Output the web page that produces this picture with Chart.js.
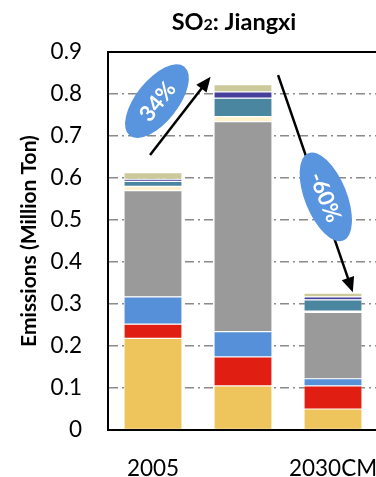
<!DOCTYPE html>
<html>
<head>
<meta charset="utf-8">
<script src="https://cdn.jsdelivr.net/npm/chart.js@4"></script>
<style>
  html, body { margin: 0; padding: 0; background: #fff; overflow: hidden; }
  #wrap { width: 376px; height: 477px; overflow: hidden; }
</style>
</head>
<body>
<div id="wrap"><canvas id="so2Chart" width="420" height="477"></canvas></div>
<script>
const years = ["2005", "2030BAU", "2030CM"];
const shownLabels = ["2005", "", "2030CM"];
const yTicks = [0, 0.1, 0.2, 0.3, 0.4, 0.5, 0.6, 0.7, 0.8, 0.9];

// stacked sources, bottom to top (Million Ton)
const seg1 = [0.218, 0.105, 0.050];
const seg2 = [0.034, 0.069, 0.055];
const seg3 = [0.065, 0.060, 0.017];
const seg4 = [0.253, 0.500, 0.158];
const seg5 = [0.010, 0.012, 0.003];
const seg6 = [0.012, 0.044, 0.027];
const seg7 = [0.005, 0.015, 0.007];
const seg8 = [0.016, 0.017, 0.009];

const changeLabels = ["34%", "-60%"];

const FONT = "Lato, 'Liberation Sans', sans-serif";

function stack(data, color) {
  return {
    data: data,
    backgroundColor: color,
    borderColor: "rgba(255,255,255,0.3)",
    borderWidth: 0.6,
    borderSkipped: false,
    categoryPercentage: 1,
    barPercentage: 0.645,
  };
}

const ctx = document.getElementById("so2Chart").getContext("2d");

const chart = new Chart(ctx, {
  type: "bar",
  data: {
    labels: years,
    datasets: [
      stack(seg1, "#EEC45C"),
      stack(seg2, "#E01F12"),
      stack(seg3, "#5690D8"),
      stack(seg4, "#9A9A9A"),
      stack(seg5, "#FFF2CC"),
      stack(seg6, "#4A86A0"),
      stack(seg7, "#463F9C"),
      stack(seg8, "#CCCA9A"),
    ],
  },
  options: {
    responsive: false,
    animation: false,
    layout: { padding: { top: 52, right: 42, left: 0, bottom: 0 } },
    plugins: {
      legend: { display: false },
      tooltip: { enabled: false },
    },
    scales: {
      x: {
        stacked: true,
        grid: { display: false },
        border: { color: "#000", width: 2 },
        ticks: {
          color: "#000",
          font: { family: FONT, size: 22.5 },
          padding: 17,
          maxRotation: 0,
          autoSkip: false,
          callback: (v, i) => shownLabels[i],
        },
        afterFit: (s) => { s.height = 47; },
      },
      y: {
        stacked: true,
        min: 0,
        max: 0.9,
        afterBuildTicks: (s) => { s.ticks = yTicks.map((v) => ({ value: v })); },
        grid: {
          drawTicks: false,
          lineWidth: 1.5,
          color: (c) => (c.tick && c.tick.value > 0 && c.tick.value < 0.9 ? "#8A8A8A" : "rgba(0,0,0,0)"),
        },
        border: { color: "#000", width: 2, dash: [9, 4, 2, 4] },
        ticks: {
          color: "#000",
          font: { family: FONT, size: 22.5 },
          padding: 26,
          callback: (v) => String(Math.round(v * 10) / 10),
        },
        title: {
          display: true,
          text: "Emissions (Million Ton)",
          color: "#000",
          font: { family: FONT, size: 21, weight: "bold" },
          padding: { top: 17, bottom: 0 },
        },
        afterFit: (s) => { s.width = 108; },
      },
    },
  },
  plugins: [
    {
      id: "frameAndNotes",
      afterDatasetsDraw(chart) {
        const { ctx, chartArea, scales: { x, y } } = chart;
        const px = (i) => x.getPixelForValue(0) + i * (x.getPixelForValue(1) - x.getPixelForValue(0));

        ctx.save();
        // top edge of the plot box
        ctx.strokeStyle = "#000";
        ctx.lineWidth = 2;
        ctx.beginPath();
        ctx.moveTo(chartArea.left - 1, chartArea.top);
        ctx.lineTo(chartArea.right, chartArea.top);
        ctx.stroke();

        function arrow(x0, y0, x1, y1) {
          const a = Math.atan2(y1 - y0, x1 - x0);
          const head = 15;
          ctx.strokeStyle = "#000";
          ctx.fillStyle = "#000";
          ctx.lineWidth = 2.5;
          ctx.beginPath();
          ctx.moveTo(x0, y0);
          ctx.lineTo(x1 - head * 0.8 * Math.cos(a), y1 - head * 0.8 * Math.sin(a));
          ctx.stroke();
          ctx.beginPath();
          ctx.moveTo(x1, y1);
          ctx.lineTo(x1 - head * Math.cos(a) + 6.5 * Math.sin(a), y1 - head * Math.sin(a) - 6.5 * Math.cos(a));
          ctx.lineTo(x1 - head * Math.cos(a) - 6.5 * Math.sin(a), y1 - head * Math.sin(a) + 6.5 * Math.cos(a));
          ctx.closePath();
          ctx.fill();
        }

        function bubble(cx, cy, rx, ry, rot, text) {
          ctx.save();
          ctx.translate(cx, cy);
          ctx.rotate(rot);
          ctx.fillStyle = "#5895DE";
          ctx.beginPath();
          ctx.ellipse(0, 0, rx, ry, 0, 0, Math.PI * 2);
          ctx.fill();
          ctx.fillStyle = "#fff";
          ctx.font = "bold 22px " + FONT;
          ctx.textAlign = "center";
          ctx.textBaseline = "middle";
          ctx.fillText(text, 0, 1);
          ctx.restore();
        }

        arrow(px(-0.033), y.getPixelForValue(0.655), px(0.64), y.getPixelForValue(0.841));
        bubble(px(0.044), y.getPixelForValue(0.783), 44, 21, -0.9, changeLabels[0]);

        arrow(px(1.39), y.getPixelForValue(0.845), px(2.22), y.getPixelForValue(0.328));
        bubble(px(1.92), y.getPixelForValue(0.555), 47, 21, 1.19, changeLabels[1]);

        // chart title with subscript
        ctx.fillStyle = "#000";
        ctx.textBaseline = "alphabetic";
        ctx.textAlign = "left";
        const big = "bold 23.5px " + FONT;
        const small = "bold 16px " + FONT;
        ctx.font = big;
        const w1 = ctx.measureText("SO").width;
        const w3 = ctx.measureText(": Jiangxi").width;
        ctx.font = small;
        const w2 = ctx.measureText("2").width;
        let tx = 234 - (w1 + w2 + w3) / 2;
        const ty = 30;
        ctx.font = big;
        ctx.fillText("SO", tx, ty);
        ctx.font = small;
        ctx.fillText("2", tx + w1, ty);
        ctx.font = big;
        ctx.fillText(": Jiangxi", tx + w1 + w2, ty);
        ctx.restore();
      },
    },
  ],
});
</script>
</body>
</html>
